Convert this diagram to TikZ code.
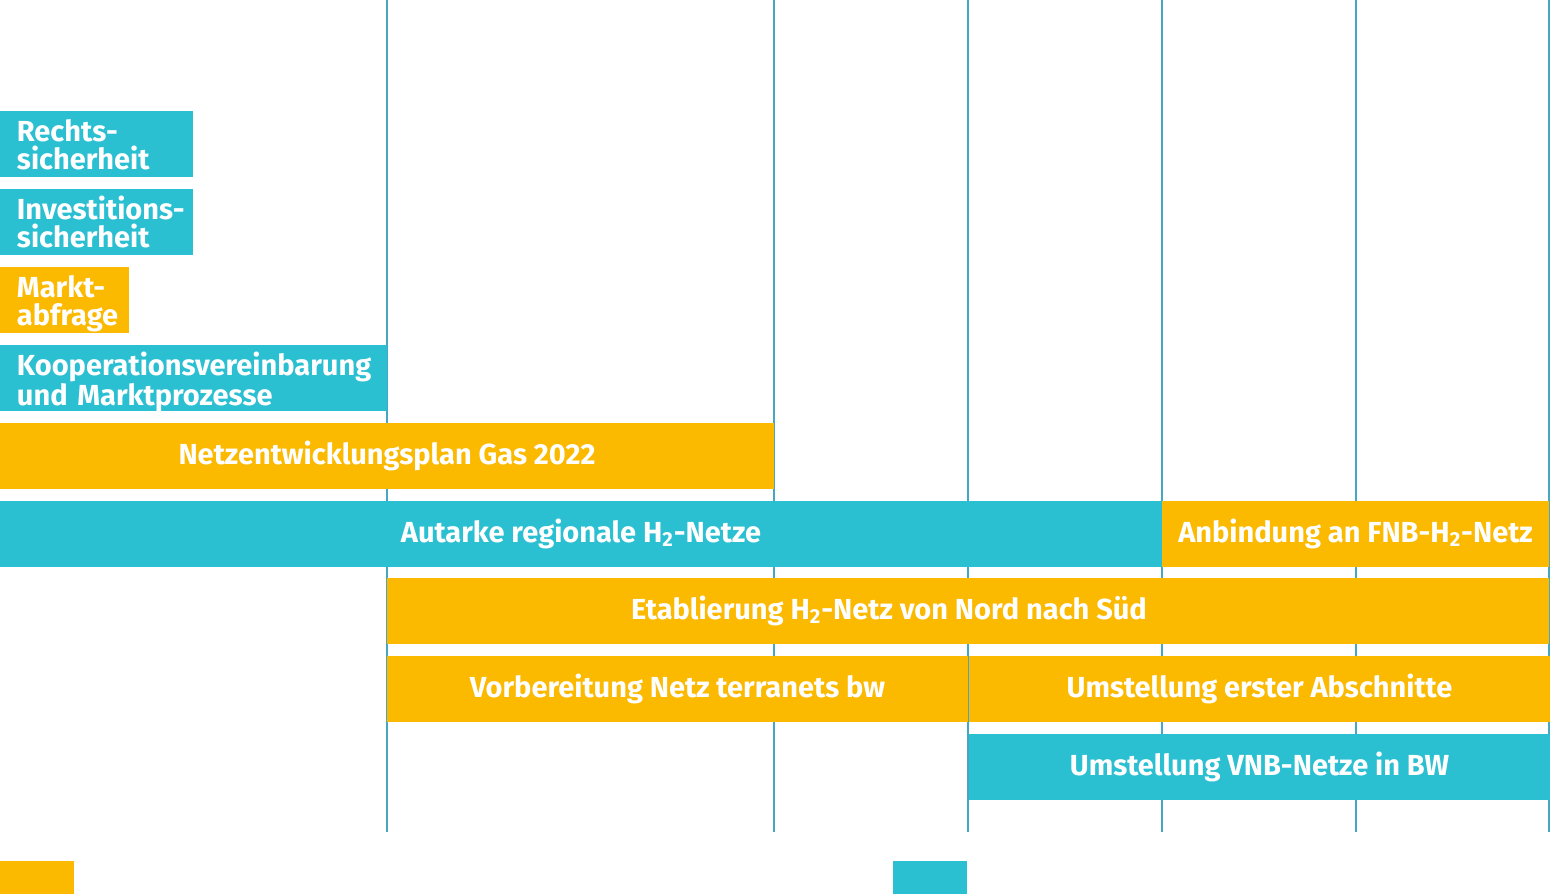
\documentclass[tikz,border=0pt]{standalone}
\usepackage{fontspec}
\setmainfont{Fira Sans}
\usetikzlibrary{positioning}
\definecolor{hcyan}{HTML}{2BBFD2}
\definecolor{hyellow}{HTML}{FBB900}
\definecolor{hgrid}{HTML}{45A7C4}

\begin{document}
\begin{tikzpicture}[x=0.5pt,y=-0.5pt,node distance=6pt,
    bar/.style={minimum height=33pt,inner sep=0pt,outer sep=0pt,text=white,
      font=\bfseries\fontsize{14.5}{14}\selectfont},
    cbar/.style={bar,fill=hcyan},
    ybar/.style={bar,fill=hyellow},
    lbar/.style={align=left,inner xsep=8.5pt,text height=11pt,text depth=14pt},
    txt/.style={text=white,font=\bfseries\fontsize{14.5}{14}\selectfont}]
    \useasboundingbox (0,0) rectangle (1550,894);
    % year grid
    \foreach \x in {387,774,968,1162,1356,1549}
        \draw[hgrid,line width=0.8pt] (\x,0) -- (\x,832);
    % left column
    \node[cbar,lbar,anchor=north west,minimum width=96.5pt,text width=79.5pt] (recht) at (0,111) {\mbox{Rechts-}\\\mbox{sicherheit}};
    \node[cbar,lbar,minimum width=96.5pt,text width=79.5pt] (invest) [below=of recht.south west,anchor=north west] {\mbox{Investitions-}\\\mbox{sicherheit}};
    \node[ybar,lbar,minimum width=64.5pt,text width=47.5pt] (markt) [below=of invest.south west,anchor=north west] {\mbox{Markt-}\\\mbox{abfrage}};
    \node[cbar,lbar,minimum width=193.5pt,text width=176.5pt] (koop) [below=of markt.south west,anchor=north west] {\mbox{Kooperationsvereinbarung}\\\mbox{und Marktprozesse}};
    \node[ybar,minimum width=387pt] (nep) [below=of koop.south west,anchor=north west] {Netzentwicklungsplan Gas 2022};
    \node[cbar,minimum width=581pt] (autark) [below=of nep.south west,anchor=north west] {Autarke regionale H\textsubscript{2}-Netze};
    \node[ybar,minimum width=193.5pt,anchor=west] (anbind) at (autark.east) {Anbindung an FNB-H\textsubscript{2}-Netz};
    % rows from 2023
    \node[ybar,minimum width=581pt,anchor=north west] (etab) at (387,578) {};
    \node[txt] (etabtxt) at (889,610.5) {Etablierung H\textsubscript{2}-Netz von Nord nach Süd};
    \node[ybar,minimum width=290.5pt] (vorb) [below=of etab.south west,anchor=north west] {Vorbereitung Netz terranets bw};
    \node[ybar,minimum width=290.5pt,anchor=west] (umst) at ([xshift=0.5pt]vorb.east) {Umstellung erster Abschnitte};
    \node[cbar,minimum width=290.5pt] (vnb) [below=of umst.south west,anchor=north west] {Umstellung VNB-Netze in BW};
    % legend
    \fill[hyellow] (0,861) rectangle (74,894);
    \fill[hcyan] (893,861) rectangle (967,894);
\end{tikzpicture}
\end{document}
